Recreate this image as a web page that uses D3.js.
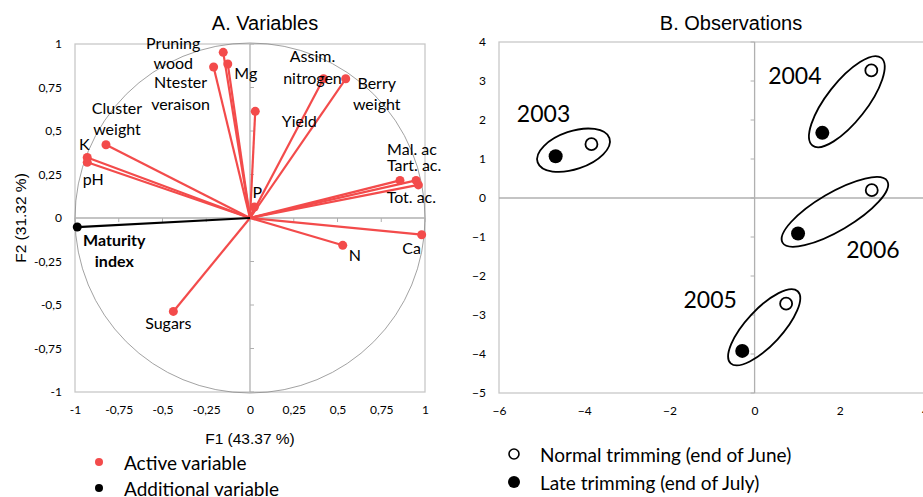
<!DOCTYPE html>
<html>
<head>
<meta charset="utf-8">
<script src="https://cdn.jsdelivr.net/npm/d3@7"></script>
<style>
body { margin: 0; background: #fff; }
svg { display: block; }
text { font-family: Lato, "Open Sans", sans-serif; fill: #000; }
.title { font-family: "Liberation Sans", Arial, sans-serif; font-size: 20px; }
.axlab { font-family: "Liberation Sans", Arial, sans-serif; font-size: 15.5px; }
.tick text { font-size: 12px; }
</style>
</head>
<body>
<div id="chart"></div>
<script>
// ---- data: variables (A) ----
const varNames = ["Pruning wood", "Ntester veraison", "Mg", "Yield", "Assim. nitrogen", "Berry weight",
  "Cluster weight", "K", "pH", "P", "Mal. ac", "Tart. ac.", "Tot. ac.", "Ca", "N", "Sugars", "Maturity index"];
const varF1 = [-0.153, -0.208, -0.127, 0.03, 0.42, 0.547, -0.823, -0.93, -0.93, 0.025, 0.857, 0.949, 0.962, 0.981, 0.53, -0.438, -0.987];
const varF2 = [0.952, 0.868, 0.885, 0.613, 0.80, 0.80, 0.421, 0.348, 0.32, 0.063, 0.216, 0.216, 0.19, -0.096, -0.157, -0.537, -0.052];
const varType = ["active", "active", "active", "active", "active", "active", "active", "active", "active",
  "active", "active", "active", "active", "active", "active", "active", "additional"];

// ---- data: observations (B) ----
const years = ["2003", "2004", "2005", "2006"];
const normalF1 = [-3.83, 2.74, 0.74, 2.75];
const normalF2 = [1.38, 3.27, -2.71, 0.2];
const lateF1 = [-4.67, 1.59, -0.29, 1.02];
const lateF2 = [1.07, 1.67, -3.92, -0.91];

const ticksA = [-1, -0.75, -0.5, -0.25, 0, 0.25, 0.5, 0.75, 1];
const ticksBx = [-6, -4, -2, 0, 2, 4];
const ticksBy = [-5, -4, -3, -2, -1, 0, 1, 2, 3, 4];

// label layout (pixel offsets from the point)
const labelPos = {
  "Pruning wood": [-50, -10, 20], "Ntester veraison": [-33, 14, 22], "Mg": [18, 8], "Yield": [44, 9],
  "Assim. nitrogen": [-11, -24, 22], "Berry weight": [31, 3, 21], "Cluster weight": [11, -38, 21],
  "K": [-3, -14], "pH": [6, 16], "P": [3, -16], "Mal. ac": [12, -32], "Tart. ac.": [-2, -16],
  "Tot. ac.": [-7, 11], "Ca": [-10, 12], "N": [12, 9], "Sugars": [-5, 11], "Maturity index": [37, 12, 21]
};
const yearPos = { "2003": [-30, -37], "2004": [-52, -27], "2005": [-54, -28], "2006": [38, 37] };
const ellipseShape = { "2003": [19, 19], "2004": [16, 20], "2005": [17, 18], "2006": [18, 19] };

const red = "#f34b4b";
const W = 923, H = 497;

const svg = d3.select("#chart").append("svg").attr("width", W).attr("height", H);

const comma = d => String(d).replace(".", ",");

//////////////////////////////////////////////////////////////////////////////
// Panel A
const xA = d3.scaleLinear().domain([-1, 1]).range([75, 425]);
const yA = d3.scaleLinear().domain([-1, 1]).range([392, 44]);

const gA = svg.append("g");

gA.append("rect")
  .attr("x", xA(-1)).attr("y", yA(1))
  .attr("width", xA(1) - xA(-1)).attr("height", yA(-1) - yA(1))
  .attr("fill", "none").attr("stroke", "#c8c8c8").attr("stroke-width", 1.3);

gA.append("g")
  .attr("class", "tick")
  .attr("transform", `translate(${xA(-1) - 3},0)`)
  .call(d3.axisLeft(yA).tickValues(ticksA).tickFormat(comma).tickSize(0).tickPadding(10))
  .call(g => g.select(".domain").remove());

gA.append("g")
  .attr("class", "tick")
  .attr("transform", `translate(0,${yA(-1) + 8})`)
  .call(d3.axisBottom(xA).tickValues(ticksA).tickFormat(comma).tickSize(0).tickPadding(5))
  .call(g => g.select(".domain").remove());

// correlation circle
gA.append("circle")
  .attr("cx", xA(0)).attr("cy", yA(0)).attr("r", xA(1) - xA(0))
  .attr("fill", "none").attr("stroke", "#8a8a8a").attr("stroke-width", 0.8);

// zero axes
gA.append("line").attr("x1", xA(-1)).attr("x2", xA(1)).attr("y1", yA(0)).attr("y2", yA(0))
  .attr("stroke", "#b0b0b0").attr("stroke-width", 1.3);
gA.append("line").attr("x1", xA(0)).attr("x2", xA(0)).attr("y1", yA(-1)).attr("y2", yA(1))
  .attr("stroke", "#b0b0b0").attr("stroke-width", 1.3);
gA.selectAll(".ytk").data(ticksA).enter().append("line")
  .attr("x1", xA(0)).attr("x2", xA(0) + 4).attr("y1", d => yA(d)).attr("y2", d => yA(d))
  .attr("stroke", "#b0b0b0");
gA.selectAll(".xtk").data(ticksA).enter().append("line")
  .attr("x1", d => xA(d)).attr("x2", d => xA(d)).attr("y1", yA(0)).attr("y2", yA(0) + 4)
  .attr("stroke", "#b0b0b0");

const vars = varNames.map((n, i) => ({ name: n, x: varF1[i], y: varF2[i], type: varType[i] }));
const colorOf = d => d.type === "active" ? red : "#000";

gA.selectAll(".vec").data(vars).enter().append("line")
  .attr("x1", xA(0)).attr("y1", yA(0))
  .attr("x2", d => xA(d.x)).attr("y2", d => yA(d.y))
  .attr("stroke", colorOf).attr("stroke-width", 2.2);

gA.selectAll(".dot").data(vars).enter().append("circle")
  .attr("cx", d => xA(d.x)).attr("cy", d => yA(d.y)).attr("r", 4.5)
  .attr("fill", colorOf);

const lab = gA.selectAll(".vlab").data(vars).enter().append("text")
  .attr("text-anchor", "middle")
  .attr("dominant-baseline", "central")
  .attr("font-size", 16)
  .attr("font-weight", d => d.type === "active" ? null : "bold")
  .attr("x", d => xA(d.x) + labelPos[d.name][0])
  .attr("y", d => yA(d.y) + labelPos[d.name][1]);

lab.each(function(d) {
  const p = labelPos[d.name];
  const words = p.length > 2 ? d.name.split(" ") : [d.name];
  const t = d3.select(this);
  words.forEach((w, k) => {
    t.append("tspan")
      .attr("x", xA(d.x) + p[0])
      .attr("dy", k === 0 ? 0 : p[2])
      .text(w);
  });
});

svg.append("text").attr("class", "title").attr("x", 265).attr("y", 30)
  .attr("text-anchor", "middle").text("A. Variables");
svg.append("text").attr("class", "axlab").attr("x", xA(0)).attr("y", 438)
  .attr("text-anchor", "middle").attr("dominant-baseline", "central").text("F1 (43.37 %)");
svg.append("text").attr("class", "axlab")
  .attr("transform", `translate(20,${yA(0)}) rotate(-90)`)
  .attr("text-anchor", "middle").attr("dominant-baseline", "central").text("F2 (31.32 %)");

// legend A
const legA = [{ t: "Active variable", c: red }, { t: "Additional variable", c: "#000" }];
legA.forEach((d, i) => {
  svg.append("circle").attr("cx", 99).attr("cy", 462 + i * 26).attr("r", 4).attr("fill", d.c);
  svg.append("text").attr("x", 124).attr("y", 462 + i * 26).attr("dominant-baseline", "central")
    .attr("font-size", 19).text(d.t);
});

//////////////////////////////////////////////////////////////////////////////
// Panel B
const xB = d3.scaleLinear().domain([-6, 4]).range([499, 925]);
const yB = d3.scaleLinear().domain([-5, 4]).range([393, 42]);

const gB = svg.append("g");

gB.append("rect")
  .attr("x", xB(-6)).attr("y", yB(4))
  .attr("width", xB(4) - xB(-6) + 10).attr("height", yB(-5) - yB(4))
  .attr("fill", "none").attr("stroke", "#c8c8c8").attr("stroke-width", 1.3);

gB.append("g")
  .attr("class", "tick")
  .attr("transform", `translate(${xB(-6) - 3},0)`)
  .call(d3.axisLeft(yB).tickValues(ticksBy).tickSize(0).tickPadding(10))
  .call(g => g.select(".domain").remove());

gB.append("g")
  .attr("class", "tick")
  .attr("transform", `translate(0,${yB(-5) + 8})`)
  .call(d3.axisBottom(xB).tickValues(ticksBx).tickSize(0).tickPadding(5))
  .call(g => g.select(".domain").remove());

gB.append("line").attr("x1", xB(-6)).attr("x2", xB(4)).attr("y1", yB(0)).attr("y2", yB(0))
  .attr("stroke", "#b0b0b0").attr("stroke-width", 1.3);
gB.append("line").attr("x1", xB(0)).attr("x2", xB(0)).attr("y1", yB(-5)).attr("y2", yB(4))
  .attr("stroke", "#b0b0b0").attr("stroke-width", 1.3);
gB.selectAll(".ytk").data(ticksBy).enter().append("line")
  .attr("x1", xB(0) - 4).attr("x2", xB(0)).attr("y1", d => yB(d)).attr("y2", d => yB(d))
  .attr("stroke", "#b0b0b0");

const obs = years.map((y, i) => ({
  year: y, nx: normalF1[i], ny: normalF2[i], lx: lateF1[i], ly: lateF2[i]
}));

// ellipses around each pair
obs.forEach(d => {
  const x1 = xB(d.lx), y1 = yB(d.ly), x2 = xB(d.nx), y2 = yB(d.ny);
  const cx = (x1 + x2) / 2, cy = (y1 + y2) / 2;
  const ang = Math.atan2(y2 - y1, x2 - x1) * 180 / Math.PI;
  const half = Math.hypot(x2 - x1, y2 - y1) / 2;
  const s = ellipseShape[d.year];
  gB.append("ellipse")
    .attr("transform", `translate(${cx},${cy}) rotate(${ang})`)
    .attr("rx", half + s[0]).attr("ry", s[1])
    .attr("fill", "none").attr("stroke", "#000").attr("stroke-width", 1.8);
  gB.append("text")
    .attr("x", cx + yearPos[d.year][0]).attr("y", cy + yearPos[d.year][1])
    .attr("text-anchor", "middle").attr("dominant-baseline", "central")
    .attr("font-size", 23).text(d.year);
});

gB.selectAll(".late").data(obs).enter().append("circle")
  .attr("cx", d => xB(d.lx)).attr("cy", d => yB(d.ly)).attr("r", 7)
  .attr("fill", "#000");
gB.selectAll(".normal").data(obs).enter().append("circle")
  .attr("cx", d => xB(d.nx)).attr("cy", d => yB(d.ny)).attr("r", 6)
  .attr("fill", "#fff").attr("stroke", "#000").attr("stroke-width", 1.8);

svg.append("text").attr("class", "title").attr("x", 731).attr("y", 30)
  .attr("text-anchor", "middle").text("B. Observations");

// legend B
svg.append("circle").attr("cx", 514).attr("cy", 454).attr("r", 5)
  .attr("fill", "#fff").attr("stroke", "#000").attr("stroke-width", 1.6);
svg.append("text").attr("x", 540).attr("y", 454).attr("dominant-baseline", "central")
  .attr("font-size", 19).text("Normal trimming (end of June)");
svg.append("circle").attr("cx", 514).attr("cy", 482).attr("r", 6).attr("fill", "#000");
svg.append("text").attr("x", 540).attr("y", 482).attr("dominant-baseline", "central")
  .attr("font-size", 19).text("Late trimming (end of July)");
</script>
</body>
</html>
